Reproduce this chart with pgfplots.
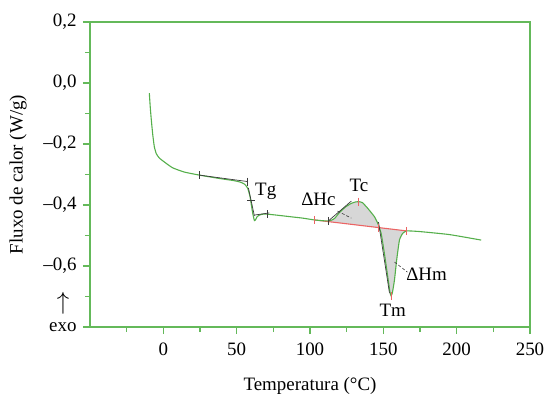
\documentclass[border=0pt]{standalone}
\usepackage{fontspec}
\setmainfont{Liberation Serif}
\usepackage{pgfplots}
\pgfplotsset{compat=1.18}
\definecolor{axgreen}{RGB}{100,185,90}
\definecolor{cgreen}{RGB}{85,175,75}
\definecolor{bred}{RGB}{235,100,100}
\definecolor{shade}{RGB}{215,215,215}
\definecolor{dk}{RGB}{60,60,60}
\begin{document}
\begin{tikzpicture}
\useasboundingbox (-90bp,-67bp) rectangle (457bp,327bp);
\begin{axis}[
  scale only axis, width=440bp, height=305bp,
  xmin=-50, xmax=250, ymin=-0.8, ymax=0.2,
  axis line style={axgreen, line width=1.4pt},
  every tick/.style={axgreen, line width=1.2pt},
  tick align=outside, xtick pos=left, ytick pos=left,
  major tick length=7bp, minor tick length=5bp,
  xtick={0,50,100,150,200,250},
  minor xtick={-25,25,75,125,175,225},
  ytick={-0.8,-0.6,-0.4,-0.2,0,0.2},
  yticklabels={exo,{–0,6},{–0,4},{–0,2},{0,0},{0,2}},
  minor ytick={-0.7,-0.5,-0.3,-0.1,0.1},
  ticklabel style={font=\fontsize{19}{22}\selectfont},
  /pgf/number format/assume math mode=true,
  xticklabel style={yshift=-5bp},
  yticklabel style={xshift=-3bp},
  xlabel={Temperatura (°C)},
  ylabel={Fluxo de calor (W/g)},
  label style={font=\fontsize{19}{22}\selectfont},
  xlabel style={at={(axis description cs:0.5,-0.2066)}, anchor=base},
  ylabel style={at={(axis description cs:-0.1636,0.5)}, anchor=center},
  clip=false,
]
% shaded enthalpy areas
\addplot[draw=none, fill=shade] coordinates {
(112.8,-0.4546) (115,-0.449) (117,-0.443) (120,-0.425) (124.1,-0.407) (128,-0.395)
(131,-0.390) (133,-0.389) (135.7,-0.392) (139.4,-0.411) (143.9,-0.438) (146.2,-0.460)
(148.5,-0.493) (150.7,-0.558) (153,-0.635) (154.5,-0.685) (155.3,-0.698) (156.2,-0.687)
(157.6,-0.646) (159.1,-0.580) (161,-0.515) (163.2,-0.493) (166,-0.485)
} -- cycle;
% red baseline
\addplot[bred, line width=1.1pt] coordinates {(103,-0.449) (166,-0.485)};
% DSC curve
\addplot[cgreen, line width=1.1pt, smooth, tension=0.3] coordinates {
(-9.55,-0.033) (-8.9,-0.08) (-8.19,-0.121) (-7.2,-0.17) (-6.14,-0.209) (-4.77,-0.232)
(-2.73,-0.246) (0.68,-0.259) (6.34,-0.278) (14.3,-0.292) (24.6,-0.302) (38.2,-0.313)
(48,-0.320) (52.5,-0.325) (55.5,-0.332) (57.5,-0.345) (59,-0.37) (59.8,-0.393)
(60.9,-0.426) (62.1,-0.451) (63.0,-0.447) (64,-0.438) (65.5,-0.433) (68,-0.430)
(70.9,-0.430) (76.9,-0.433) (85.9,-0.438) (95,-0.443) (103,-0.449) (110,-0.452)
(112.8,-0.452) (115,-0.449) (117,-0.443) (120,-0.425) (124.1,-0.407) (128,-0.395)
(131,-0.390) (133,-0.389) (135.7,-0.392) (139.4,-0.411) (143.9,-0.438) (146.2,-0.460)
(148.5,-0.493) (150.7,-0.558) (153,-0.635) (154.5,-0.685) (155.3,-0.698) (156.2,-0.687)
(157.6,-0.646) (159.1,-0.580) (161,-0.515) (163.2,-0.493) (166,-0.485) (174.6,-0.487)
(195.1,-0.497) (216.7,-0.515)
};
% tangent lines
\addplot[dk, line width=0.7pt] coordinates {(24.6,-0.302) (57.3,-0.323)};
\addplot[dk, line width=0.7pt] coordinates {(58,-0.344) (62.1,-0.436)};
\addplot[dk, line width=0.7pt] coordinates {(62.1,-0.433) (72.3,-0.426)};
\addplot[dk, line width=0.7pt] coordinates {(112.6,-0.452) (128.2,-0.387)};
\addplot[dk, line width=0.7pt] coordinates {(146.7,-0.456) (154.2,-0.689)};
% pointers
\addplot[dk, line width=0.6pt, densely dashed] coordinates {(118.7,-0.420) (128.2,-0.443)};
\addplot[dk, line width=0.6pt, densely dashed] coordinates {(157.6,-0.587) (166.4,-0.620)};
% tick marks
\addplot[dk, only marks, mark=|, mark size=4bp, mark options={line width=0.7pt}] coordinates {
(24.6,-0.302) (57.3,-0.323) (112.8,-0.452) (70.9,-0.430)};
\addplot[dk, only marks, mark=-, mark size=4bp, mark options={line width=0.7pt}] coordinates {
(59.7,-0.384)};
\addplot[bred, only marks, mark=|, mark size=4bp, mark options={line width=0.8pt}] coordinates {
(103,-0.449) (133,-0.389) (146.8,-0.474) (155.3,-0.698) (166,-0.485)};
% annotations
\node[anchor=base west, font=\fontsize{19}{22}\selectfont, inner sep=0pt] at (axis cs:62.5,-0.370) {Tg};
\node[anchor=base west, font=\fontsize{19}{22}\selectfont, inner sep=0pt] at (axis cs:126.9,-0.357) {Tc};
\node[anchor=base west, font=\fontsize{19}{22}\selectfont, inner sep=0pt] at (axis cs:93.9,-0.400) {ΔHc};
\node[anchor=base west, font=\fontsize{19}{22}\selectfont, inner sep=0pt] at (axis cs:165.5,-0.646) {ΔHm};
\node[anchor=base west, font=\fontsize{19}{22}\selectfont, inner sep=0pt] at (axis cs:147.3,-0.766) {Tm};
\node[font=\fontsize{23}{26}\selectfont, inner sep=0pt] at (axis description cs:-0.0614,0.0787) {$\uparrow$};
\end{axis}
\end{tikzpicture}
\end{document}
